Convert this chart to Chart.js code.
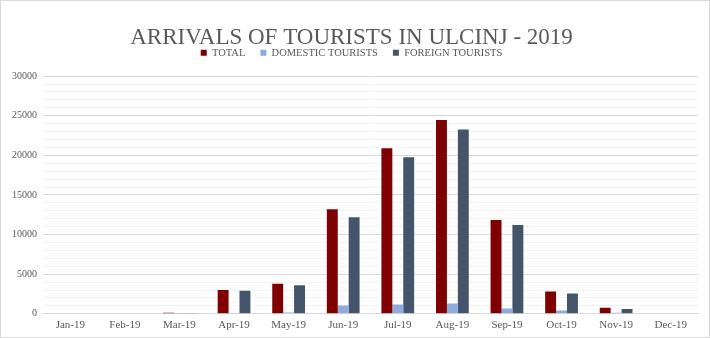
<!DOCTYPE html>
<html>
<head>
<meta charset="utf-8">
<script src="https://cdn.jsdelivr.net/npm/chart.js@4.4.1/dist/chart.umd.min.js"></script>
<style>
  html, body { margin: 0; padding: 0; background: #fff; }
  #wrap {
    width: 708px; height: 336px;
    border: 1px solid #d9d9d9;
    position: relative;
  }
</style>
</head>
<body>
<div id="wrap"><canvas id="arrivalsChart"></canvas></div>
<script>
// monthly arrivals, Ulcinj 2019
const months = ["Jan-19", "Feb-19", "Mar-19", "Apr-19", "May-19", "Jun-19",
                "Jul-19", "Aug-19", "Sep-19", "Oct-19", "Nov-19", "Dec-19"];
const total    = [0, 0, 130, 3000, 3780, 13200, 20900, 24460, 11850, 2800, 760, 0];
const domestic = [0, 0, 20, 90, 170, 1050, 1170, 1300, 670, 420, 140, 0];
const foreign  = [0, 0, 110, 2900, 3600, 12200, 19750, 23250, 11200, 2550, 600, 0];

const serif = "'Liberation Serif', 'Times New Roman', serif";
const grey = "#595959";

// leave some room between the legend and the plot
const legendGap = {
    id: "legendGap",
    beforeInit(chart) {
        const fit = chart.legend.fit;
        chart.legend.fit = function () {
            fit.call(this);
            this.height += 8;
        };
    }
};

new Chart(document.getElementById("arrivalsChart"), {
    type: "bar",
    data: {
        labels: months,
        datasets: [
            { label: "TOTAL", data: total, backgroundColor: "#7f0000" },
            { label: "DOMESTIC TOURISTS", data: domestic, backgroundColor: "#8faadc" },
            { label: "FOREIGN TOURISTS", data: foreign, backgroundColor: "#44546a" }
        ]
    },
    plugins: [legendGap],
    options: {
        responsive: true,
        maintainAspectRatio: false,
        animation: false,
        layout: { padding: { left: 4, right: 11, top: 10, bottom: 0 } },
        datasets: {
            bar: { categoryPercentage: 0.6, barPercentage: 1.0 }
        },
        plugins: {
            title: {
                display: true,
                text: "ARRIVALS OF TOURISTS IN ULCINJ - 2019",
                color: grey,
                font: { family: serif, size: 23, weight: "normal" },
                padding: { top: 13, bottom: -19 }
            },
            legend: {
                labels: {
                    color: grey,
                    boxWidth: 6,
                    boxHeight: 6,
                    padding: 15,
                    font: { family: serif, size: 10.5 }
                }
            },
            tooltip: { enabled: false }
        },
        scales: {
            x: {
                grid: { display: false, drawTicks: false },
                border: { color: "#d9d9d9" },
                ticks: { color: grey, padding: 5, font: { family: serif, size: 11 }, maxRotation: 0 }
            },
            y: {
                min: 0,
                max: 30000,
                afterFit: s => { s.width = 38; },
                border: { display: false },
                grid: {
                    drawTicks: false,
                    color: ctx => (ctx.tick && ctx.tick.value % 5000 === 0) ? "#d9d9d9" : "#f2f2f2"
                },
                ticks: {
                    stepSize: 1000,
                    autoSkip: false,
                    padding: 6,
                    color: grey,
                    font: { family: serif, size: 10 },
                    callback: v => (v % 5000 === 0 ? v : "")
                }
            }
        }
    }
});
</script>
</body>
</html>
